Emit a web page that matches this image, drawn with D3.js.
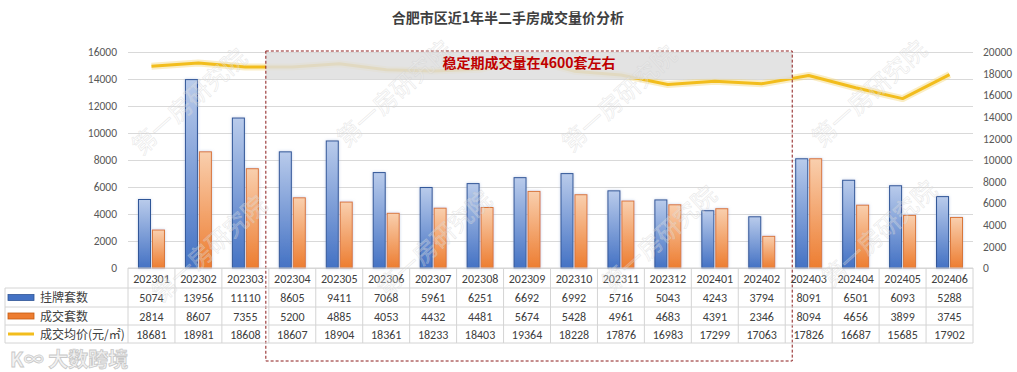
<!DOCTYPE html>
<html>
<head>
<meta charset="utf-8">
<script src="https://cdn.jsdelivr.net/npm/d3@7"></script>
<style>
    body { margin: 0; background: #fff; }
    svg { font-family: "Microsoft YaHei", "Noto Sans CJK SC", sans-serif; }
</style>
</head>
<body>
<svg id="chart" width="1017" height="372"></svg>
<script>
// 合肥市区二手房 挂牌/成交 数据
var months = ["202301", "202302", "202303", "202304", "202305", "202306", "202307", "202308", "202309",
    "202310", "202311", "202312", "202401", "202402", "202403", "202404", "202405", "202406"];
var listed = [5074, 13956, 11110, 8605, 9411, 7068, 5961, 6251, 6692, 6992, 5716, 5043, 4243, 3794, 8091, 6501, 6093, 5288];
var sold = [2814, 8607, 7355, 5200, 4885, 4053, 4432, 4481, 5674, 5428, 4961, 4683, 4391, 2346, 8094, 4656, 3899, 3745];
var price = [18681, 18981, 18608, 18607, 18904, 18361, 18233, 18403, 19364, 18228, 17876, 16983, 17299, 17063, 17826, 16687, 15685, 17902];
var seriesNames = ["挂牌套数", "成交套数", "成交均价(元/㎡)"];
var leftTicks = [0, 2000, 4000, 6000, 8000, 10000, 12000, 14000, 16000];
var rightTicks = [0, 2000, 4000, 6000, 8000, 10000, 12000, 14000, 16000, 18000, 20000];
var title = "合肥市区近1年半二手房成交量价分析";
var note = "稳定期成交量在4600套左右";
var highlight = ["202304", "202402"];

var svg = d3.select("#chart"),
    pl = 128, pr = 973, pt = 52, pb = 268;

var numFont = "Calibri, Carlito, 'Liberation Sans', sans-serif";

var x = d3.scaleBand().domain(months).range([pl, pr]);
var xs = d3.scaleBand().domain(["listed", "sold"]).range([0, x.bandwidth()])
    .paddingInner(0.14).paddingOuter(0.75);
var y = d3.scaleLinear().domain([0, 16000]).range([pb, pt]);
var y2 = d3.scaleLinear().domain([0, 20000]).range([pb, pt]);

var defs = svg.append("defs");
function grad(id, c1, c2) {
    var g = defs.append("linearGradient").attr("id", id).attr("x1", 0).attr("y1", 0).attr("x2", 0).attr("y2", 1);
    g.append("stop").attr("offset", "0%").attr("stop-color", c1);
    g.append("stop").attr("offset", "100%").attr("stop-color", c2);
}
grad("gBlue", "#b9cbeb", "#4472c4");
grad("gOrange", "#f9cfae", "#ed7d31");
defs.append("filter").attr("id", "glow").attr("x", "-50%").attr("y", "-20%").attr("width", "200%").attr("height", "140%")
    .append("feDropShadow").attr("dx", 0).attr("dy", 0).attr("stdDeviation", 1.6)
    .attr("flood-color", "#9db3dc").attr("flood-opacity", 0.6);

// title
svg.append("text")
    .attr("x", 508).attr("y", 23)
    .attr("text-anchor", "middle")
    .attr("font-size", 14).attr("font-weight", "bold").attr("fill", "#404040")
    .text(title);

// gridlines
svg.append("g")
    .attr("transform", "translate(" + pl + ",0)")
    .call(d3.axisLeft(y).tickValues(leftTicks).tickSize(-(pr - pl)).tickFormat(""))
    .call(function (g) { g.select(".domain").remove(); })
    .selectAll("line").attr("stroke", "#d9d9d9");

// left axis
svg.append("g")
    .attr("transform", "translate(" + (pl - 8) + ",0)")
    .call(d3.axisLeft(y).tickValues(leftTicks).tickSize(0).tickFormat(d3.format("d")))
    .call(function (g) { g.select(".domain").remove(); })
    .selectAll("text").attr("font-size", 11.5).attr("fill", "#595959")
    .attr("font-family", numFont);

// right axis
svg.append("g")
    .attr("transform", "translate(" + (pr + 7) + ",0)")
    .call(d3.axisRight(y2).tickValues(rightTicks).tickSize(0).tickFormat(d3.format("d")))
    .call(function (g) { g.select(".domain").remove(); })
    .selectAll("text").attr("font-size", 11.5).attr("fill", "#595959")
    .attr("font-family", numFont);

// bars
var groups = svg.append("g").selectAll("g")
    .data(months)
    .enter().append("g")
    .attr("transform", function (d) { return "translate(" + x(d) + ",0)"; });

groups.append("rect")
    .attr("x", xs("listed"))
    .attr("y", function (d, i) { return y(listed[i]); })
    .attr("width", xs.bandwidth())
    .attr("height", function (d, i) { return pb - y(listed[i]); })
    .attr("fill", "url(#gBlue)").attr("stroke", "#2f5597").attr("stroke-width", 1)
    .attr("filter", "url(#glow)");

groups.append("rect")
    .attr("x", xs("sold"))
    .attr("y", function (d, i) { return y(sold[i]); })
    .attr("width", xs.bandwidth())
    .attr("height", function (d, i) { return pb - y(sold[i]); })
    .attr("fill", "url(#gOrange)").attr("stroke", "#d9773a").attr("stroke-width", 1)
    .attr("filter", "url(#glow)");

// price line
var line = d3.line()
    .x(function (d, i) { return x(months[i]) + x.bandwidth() / 2; })
    .y(function (d) { return y2(d); });

svg.append("path")
    .datum(price)
    .attr("fill", "none").attr("stroke", "#f3d77c").attr("stroke-width", 7).attr("stroke-opacity", 0.45)
    .attr("stroke-linejoin", "round")
    .attr("d", line);
svg.append("path")
    .datum(price)
    .attr("fill", "none").attr("stroke", "#f2bd1d").attr("stroke-width", 3)
    .attr("stroke-linejoin", "round")
    .attr("d", line);

// highlight box
var hx0 = x(highlight[0]) - 3, hx1 = x(highlight[1]) + x.bandwidth() + 7;
svg.append("rect")
    .attr("x", hx0).attr("y", pt + 1)
    .attr("width", hx1 - hx0).attr("height", 26)
    .attr("fill", "#dedede").attr("fill-opacity", 0.85);
svg.append("rect")
    .attr("x", hx0).attr("y", pt - 1)
    .attr("width", hx1 - hx0).attr("height", 362 - pt)
    .attr("fill", "none").attr("stroke", "#8b1a1a").attr("stroke-width", 1)
    .attr("stroke-dasharray", "3,2");
svg.append("text")
    .attr("x", (hx0 + hx1) / 2).attr("y", 68)
    .attr("text-anchor", "middle")
    .attr("font-size", 14).attr("font-weight", "bold").attr("fill", "#c00000")
    .text(note);

// data table
var rowY = [268, 288, 307, 325, 343];
var tbl = svg.append("g").attr("fill", "#404040");
var gridColor = "#d4d4d4";

tbl.append("line").attr("x1", pl).attr("x2", pr).attr("y1", rowY[0]).attr("y2", rowY[0]).attr("stroke", gridColor);
rowY.slice(1).forEach(function (ry) {
    tbl.append("line").attr("x1", 5).attr("x2", pr).attr("y1", ry).attr("y2", ry).attr("stroke", gridColor);
});
tbl.append("line").attr("x1", 5).attr("x2", 5).attr("y1", rowY[1]).attr("y2", rowY[4]).attr("stroke", gridColor);
months.forEach(function (m) {
    tbl.append("line").attr("x1", x(m)).attr("x2", x(m)).attr("y1", rowY[0]).attr("y2", rowY[4]).attr("stroke", gridColor);
});
tbl.append("line").attr("x1", pr).attr("x2", pr).attr("y1", rowY[0]).attr("y2", rowY[4]).attr("stroke", gridColor);

var rows = [months, listed, sold, price];
rows.forEach(function (vals, r) {
    tbl.selectAll(null)
        .data(vals)
        .enter().append("text")
        .attr("x", function (d, i) { return x(months[i]) + x.bandwidth() / 2; })
        .attr("y", (rowY[r] + rowY[r + 1]) / 2 + 4.5)
        .attr("text-anchor", "middle")
        .attr("font-family", numFont)
        .attr("font-size", 12)
        .text(function (d) { return d; });
});

// legend column
var legend = tbl.selectAll(".leg")
    .data(seriesNames)
    .enter().append("g")
    .attr("transform", function (d, i) { return "translate(0," + (rowY[i + 1] + rowY[i + 2]) / 2 + ")"; });
legend.append("text")
    .attr("x", 40).attr("y", 4.5)
    .attr("font-size", 12).attr("fill", "#404040")
    .text(function (d) { return d; });
legend.filter(function (d, i) { return i < 2; }).append("rect")
    .attr("x", 8).attr("y", -3).attr("width", 26).attr("height", 6)
    .attr("fill", function (d, i) { return i === 0 ? "#4472c4" : "#ed7d31"; })
    .attr("stroke", function (d, i) { return i === 0 ? "#2f5597" : "#c55a11"; })
    .attr("stroke-width", 0.8);
legend.filter(function (d, i) { return i === 2; }).append("line")
    .attr("x1", 8).attr("x2", 34).attr("y1", 0).attr("y2", 0)
    .attr("stroke", "#f2bd1d").attr("stroke-width", 3);

// watermarks
var marks = [[195, 108], [400, 100], [625, 105], [875, 100], [215, 255], [440, 250], [665, 245], [885, 240]];
svg.append("g").selectAll("text")
    .data(marks)
    .enter().append("text")
    .attr("transform", function (d) { return "translate(" + d[0] + "," + d[1] + ") rotate(-42)"; })
    .attr("text-anchor", "middle")
    .attr("font-size", 24)
    .attr("fill", "#ffffff").attr("fill-opacity", 0.2)
    .attr("stroke", "#cfcfcf").attr("stroke-width", 0.6).attr("stroke-opacity", 0.5)
    .text("第一房研究院");

svg.append("text")
    .attr("x", 10).attr("y", 367)
    .attr("font-size", 20).attr("font-weight", "bold")
    .attr("fill", "#f2f2f2").attr("stroke", "#c8c8c8").attr("stroke-width", 0.8)
    .text("K∞ 大数跨境");
</script>
</body>
</html>
